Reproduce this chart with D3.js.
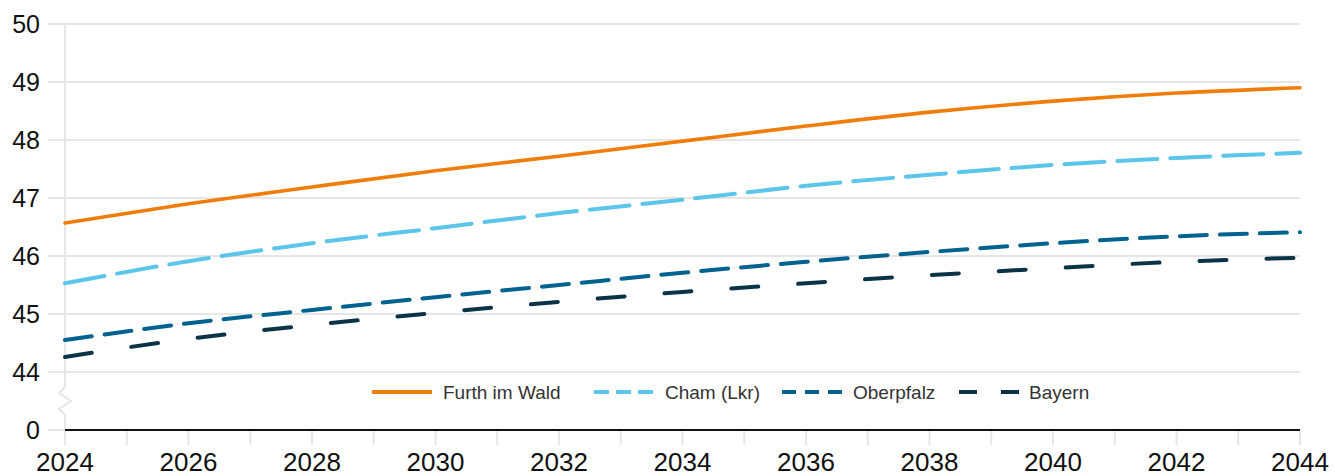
<!DOCTYPE html>
<html><head><meta charset="utf-8">
<script src="https://cdn.jsdelivr.net/npm/d3@7"></script>
<style>body{margin:0;background:#fff}svg{display:block;font-family:"Liberation Sans",Arial,sans-serif}</style>
</head><body><svg id="c" width="1335" height="476"></svg>
<script>
const years = [2024,2026,2028,2030,2032,2034,2036,2038,2040,2042,2044];
const furth = [46.57,46.90,47.19,47.47,47.72,47.98,48.24,48.48,48.67,48.81,48.90];
const cham = [45.53,45.91,46.22,46.48,46.74,46.97,47.21,47.40,47.57,47.69,47.78];
const oberpfalz = [44.55,44.84,45.07,45.29,45.50,45.71,45.90,46.07,46.22,46.34,46.41];
const bayern = [44.26,44.57,44.81,45.02,45.21,45.38,45.53,45.67,45.79,45.90,45.97];
const yTicks = [44,45,46,47,48,49,50];
const xTickLabels = [2024,2026,2028,2030,2032,2034,2036,2038,2040,2042,2044];
const seriesNames = ["Furth im Wald","Cham (Lkr)","Oberpfalz","Bayern"];

const svg = d3.select("#c");
const x = d3.scaleLinear().domain([2024,2044]).range([65,1300]);
const y = d3.scaleLinear().domain([44,50]).range([372,24]);
const y0 = 430;

svg.append("g").selectAll("line").data(yTicks).join("line")
  .attr("x1",48).attr("x2",1300).attr("y1",d=>y(d)).attr("y2",d=>y(d))
  .attr("stroke","#e6e6e6").attr("stroke-width",2);
svg.append("line").attr("x1",48).attr("x2",1300).attr("y1",y0).attr("y2",y0)
  .attr("stroke","#e6e6e6").attr("stroke-width",2);

svg.append("g").selectAll("line").data(d3.range(2024,2045)).join("line")
  .attr("x1",d=>x(d)).attr("x2",d=>x(d)).attr("y1",y0).attr("y2",445)
  .attr("stroke","#e6e6e6").attr("stroke-width",2);

const ax = x(2024);
svg.append("path")
  .attr("d",`M${ax},24 L${ax},387 L${ax-6},393 L${ax+6},401 L${ax-6},409 L${ax},415 L${ax},445`)
  .attr("fill","none").attr("stroke","#e6e6e6").attr("stroke-width",2);

svg.append("line").attr("x1",x(2024)).attr("x2",x(2044)).attr("y1",y0).attr("y2",y0)
  .attr("stroke","#111").attr("stroke-width",2.2);

svg.append("g").selectAll("text").data(yTicks).join("text")
  .attr("x",40).attr("y",d=>y(d)).attr("dy","0.36em").attr("text-anchor","end")
  .attr("font-size",25).attr("fill","#111").text(d=>d);
svg.append("text").attr("x",40).attr("y",y0).attr("dy","0.36em").attr("text-anchor","end")
  .attr("font-size",25).attr("fill","#111").text("0");

svg.append("g").selectAll("text").data(xTickLabels).join("text")
  .attr("x",d=>x(d)).attr("y",471).attr("text-anchor","middle")
  .attr("font-size",26).attr("fill","#111").text(d=>d);

const styles = [
  {color:"#f07d0a", dash:null, w:3.6},
  {color:"#5bc5ea", dash:"40 13", w:4},
  {color:"#00628f", dash:"27 13", w:4},
  {color:"#0a3446", dash:"27 40", w:4}
];
const data = [furth,cham,oberpfalz,bayern];
const line = d3.line().x((d,i)=>x(years[i])).y(d=>y(d)).curve(d3.curveMonotoneX);
data.forEach((s,k)=>{
  svg.append("path").datum(s).attr("d",line).attr("fill","none")
    .attr("stroke",styles[k].color).attr("stroke-width",styles[k].w)
    .attr("stroke-linecap","round")
    .attr("stroke-dasharray",styles[k].dash);
});

const leg = [
  {x1:372, tx:443, dash:null},
  {x1:594, tx:665, dash:"15 7"},
  {x1:782, tx:853, dash:"14 9"},
  {x1:959, tx:1029, dash:"18 24"}
];
const ly = 392;
leg.forEach((l,k)=>{
  svg.append("line").attr("x1",l.x1).attr("x2",l.x1+60).attr("y1",ly).attr("y2",ly)
    .attr("stroke",styles[k].color).attr("stroke-width",4)
    .attr("stroke-dasharray",l.dash);
  svg.append("text").attr("x",l.tx).attr("y",ly).attr("dy","0.35em")
    .attr("font-size",19).attr("fill","#333").text(seriesNames[k]);
});
</script></body></html>
